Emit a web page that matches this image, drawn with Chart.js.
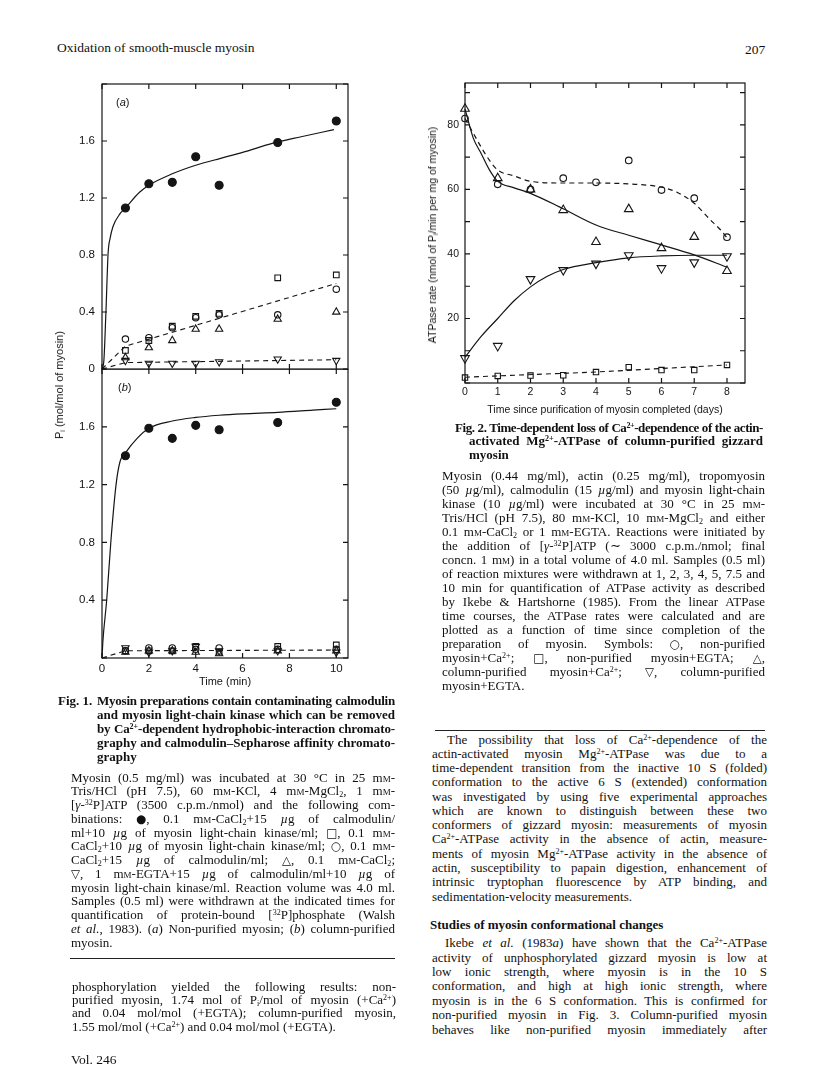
<!DOCTYPE html>
<html><head><meta charset="utf-8">
<script src="https://cdn.jsdelivr.net/npm/chart.js@4.4.1/dist/chart.umd.min.js"></script>
<style>
html,body{margin:0;padding:0;background:#fff;}
body{width:816px;height:1085px;position:relative;overflow:hidden;font-family:"Liberation Serif","Times New Roman",serif;color:#111;}
.ln{position:absolute;white-space:nowrap;font-size:13px;line-height:16px;}
.b{font-weight:bold;}
.hd{font-size:13.5px;}
sup{font-size:0.62em;vertical-align:0.5em;line-height:0;}
sub{font-size:0.62em;vertical-align:-0.25em;line-height:0;}
.sc{font-variant:small-caps;}
.sym{font-family:"DejaVu Sans",sans-serif;font-size:0.9em;}
canvas{position:absolute;}
.rule{position:absolute;height:0;border-top:1.3px solid #222;}
.ax{position:absolute;font-family:"Liberation Sans",Arial,sans-serif;white-space:nowrap;color:#151515;}
.rot{transform:translate(-50%,-50%) rotate(-90deg);}
</style>
</head>
<body>
<canvas id="fig1a" width="330" height="312" style="left:40px;top:70px;"></canvas>
<canvas id="fig1b" width="330" height="320" style="left:40px;top:369px;"></canvas>
<canvas id="fig2" width="340" height="352" style="left:420px;top:70px;"></canvas>

<div class="ax" style="left:116px;top:96px;font-size:11px;">(<i>a</i>)</div>
<div class="ax" style="left:118px;top:381px;font-size:11px;">(<i>b</i>)</div>
<div class="ax rot" style="left:59px;top:385px;font-size:11px;">P<sub>i</sub> (mol/mol of myosin)</div>
<div class="ax rot" style="left:432px;top:235px;font-size:10.5px;">ATPase rate (nmol of P<sub>i</sub>/min per mg of myosin)</div>

<div class="rule" style="left:70px;top:958px;width:325px;"></div>
<div class="rule" style="left:435px;top:730px;width:330px;"></div>

<script>
// ---------------- DATA ----------------
// Fig. 1 sampling times (min)
const fig1Times = [1, 2, 3, 4, 5, 7.5, 10];
// Panel (a) non-purified myosin
const fig1aFilledCircle = [1.13, 1.30, 1.31, 1.49, 1.29, 1.59, 1.74];
const fig1aSquare       = [0.13, 0.20, 0.30, 0.37, 0.39, 0.64, 0.66];
const fig1aCircle       = [0.21, 0.22, 0.29, 0.36, 0.38, 0.38, 0.56];
const fig1aTriangle     = [0.08, 0.15, 0.20, 0.28, 0.28, 0.35, 0.40];
const fig1aDownTriangle = [0.06, 0.04, 0.04, 0.04, 0.05, 0.07, 0.06];
const fig1aCurveX = [0, 0.08, 0.17, 0.26, 0.35, 0.47, 0.77, 1, 1.6, 2, 3, 4, 5.1, 6, 7.3, 8.5, 9.9];
const fig1aCurveY = [0, 0.06, 0.41, 0.81, 0.92, 1.00, 1.09, 1.13, 1.24, 1.29, 1.37, 1.43, 1.48, 1.52, 1.585, 1.63, 1.68];
const fig1aDashUpperX = [0, 1, 10];
const fig1aDashUpperY = [0, 0.16, 0.60];
const fig1aDashLowerX = [0, 1, 10];
const fig1aDashLowerY = [0, 0.045, 0.065];
// Panel (b) column-purified myosin
const fig1bFilledCircle = [1.40, 1.59, 1.52, 1.61, 1.58, 1.63, 1.77];
const fig1bSquare       = [0.05, 0.05, 0.05, 0.08, 0.04, 0.08, 0.09];
const fig1bCircle       = [0.05, 0.07, 0.07, 0.06, 0.07, 0.06, 0.06];
const fig1bTriangle     = [0.04, 0.05, 0.05, 0.04, 0.03, 0.05, 0.05];
const fig1bDownTriangle = [0.07, 0.04, 0.05, 0.08, 0.05, 0.05, 0.04];
const fig1bCurveX = [0, 0.04, 0.2, 0.38, 0.6, 0.77, 1, 1.5, 2, 3, 4, 5, 6, 7.5, 9, 10];
const fig1bCurveY = [0, 0.12, 0.40, 0.81, 1.20, 1.36, 1.42, 1.52, 1.59, 1.64, 1.665, 1.68, 1.69, 1.70, 1.715, 1.725];
const fig1bDashX = [0, 1, 10];
const fig1bDashY = [0, 0.05, 0.055];
const fig1YTicks = ['0', '0.4', '0.8', '1.2', '1.6'];

// Fig. 2 days since purification
const fig2Days = [0, 1, 2, 3, 4, 5, 6, 7, 8];
const fig2NonPurCa   = [82, 61.6, 60, 63.5, 62.2, 69, 59.8, 57.3, 45.2];
const fig2NonPurEGTA = [1.7, 2.2, 2.3, 2.4, 3.4, 4.9, 4.0, 4.0, 5.6];
const fig2ColPurCa   = [85, 63.5, 60, 53.6, 43.7, 53.9, 41.8, 45.3, 34.7];
const fig2ColPurEGTA = [7.7, 11.5, 32.2, 35, 37, 39.6, 35.6, 37.4, 39.3];
const fig2CurveNonPurCaX = [0, 0.25, 0.5, 0.75, 1, 1.5, 2, 3, 4, 5, 6, 6.5, 7, 7.5, 7.8, 8];
const fig2CurveNonPurCaY = [82, 77.5, 73, 69, 66, 64.2, 62.5, 62, 62, 61.7, 60.7, 59, 55.7, 50.5, 47.5, 45];
const fig2CurveColPurCaX = [0, 0.25, 0.5, 0.75, 1, 1.5, 2, 3, 4, 5, 6, 7, 8];
const fig2CurveColPurCaY = [85, 76, 71, 66, 62.5, 60.5, 58.8, 54, 49, 45.8, 42.8, 39.7, 35.9];
const fig2CurveColPurEGTAX = [0, 0.5, 1, 1.5, 2, 2.5, 3, 4, 5, 6, 7, 8];
const fig2CurveColPurEGTAY = [8, 14.5, 20, 25.5, 29.8, 33, 35.2, 37.3, 38.8, 39.4, 39.6, 39.6];
const fig2LineNonPurEGTAX = [0, 4, 8];
const fig2LineNonPurEGTAY = [1.8, 3.4, 5.6];
const fig2YTicks = ['20', '40', '60', '80'];

// ---------------- HELPERS ----------------
const SANS = '"Liberation Sans", Arial, Helvetica, sans-serif';
const INK = '#151515';
function xy(xs, ys) { return xs.map((x, i) => ({ x: x, y: ys[i] })); }
function curve(xs, ys, dashed) {
  return { data: xy(xs, ys), showLine: true, pointRadius: 0, borderColor: INK, borderWidth: 1.2,
    borderDash: dashed ? [5, 4] : [], cubicInterpolationMode: 'monotone', fill: false, clip: false };
}
function straight(xs, ys) {
  return { data: xy(xs, ys), showLine: true, pointRadius: 0, borderColor: INK, borderWidth: 1.1,
    borderDash: [5, 4], tension: 0, fill: false, clip: false };
}
function marks(xs, ys, style, r, filled, rot) {
  return { data: xy(xs, ys), showLine: false, pointStyle: style, pointRadius: r, pointRotation: rot || 0,
    pointBackgroundColor: filled ? INK : 'rgba(0,0,0,0)', pointBorderColor: INK, pointBorderWidth: 1.1, clip: false };
}
const frame = {
  id: 'frame',
  afterDraw(chart, args, o) {
    const { ctx, chartArea: a, scales } = chart;
    ctx.save();
    ctx.strokeStyle = INK; ctx.lineWidth = 1.2;
    ctx.strokeRect(a.left, a.top, a.right - a.left, a.bottom - a.top);
    const L = o.len || 5;
    ctx.beginPath();
    scales.x.ticks.forEach(t => {
      const p = scales.x.getPixelForValue(t.value);
      ctx.moveTo(p, a.bottom); ctx.lineTo(p, a.bottom - L);
      ctx.moveTo(p, a.top); ctx.lineTo(p, a.top + L);
    });
    scales.y.ticks.forEach(t => {
      const p = scales.y.getPixelForValue(t.value);
      ctx.moveTo(a.left, p); ctx.lineTo(a.left + L, p);
      ctx.moveTo(a.right, p); ctx.lineTo(a.right - L, p);
    });
    ctx.stroke();
    ctx.restore();
  }
};

function fig1Options(bottom) {
  return {
    responsive: false, animation: false, devicePixelRatio: 1, events: [],
    layout: { padding: { left: 0, right: 22, top: bottom ? 0 : 14, bottom: bottom ? 0 : 13 }, autoPadding: false },
    plugins: { legend: { display: false }, tooltip: { enabled: false }, frame: { len: 5 } },
    scales: {
      x: {
        type: 'linear', min: 0, max: 10.5,
        ticks: { stepSize: 2, includeBounds: false, display: bottom, padding: 4, maxRotation: 0, autoSkip: false,
          font: { family: SANS, size: 11.5 }, color: INK, callback: v => String(v) },
        grid: { display: false, drawTicks: false }, border: { display: false },
        title: { display: bottom, text: 'Time (min)', font: { family: SANS, size: 11 }, color: INK, padding: { top: 0, bottom: 0 } },
        afterFit(s) { s.height = bottom ? 31 : 0; s.paddingLeft = 0; s.paddingRight = 0; }
      },
      y: {
        min: 0, max: 2.0,
        ticks: { stepSize: 0.4, includeBounds: false, padding: 7, font: { family: SANS, size: 11.5 }, color: INK,
          callback: (v, i) => {
            const k = Math.round(v / 0.4);
            if (bottom && k === 0) return '';
            return k < fig1YTicks.length ? fig1YTicks[k] : '';
          } },
        grid: { display: false, drawTicks: false }, border: { display: false },
        afterFit(s) { s.width = 62; s.paddingTop = 0; s.paddingBottom = 0; }
      }
    }
  };
}

new Chart(document.getElementById('fig1a'), {
  type: 'scatter',
  data: { datasets: [
    curve(fig1aCurveX, fig1aCurveY, false),
    straight(fig1aDashUpperX, fig1aDashUpperY),
    straight(fig1aDashLowerX, fig1aDashLowerY),
    marks(fig1Times, fig1aFilledCircle, 'circle', 4, true),
    marks(fig1Times, fig1aSquare, 'rect', 4, false),
    marks(fig1Times, fig1aCircle, 'circle', 3.2, false),
    marks(fig1Times, fig1aTriangle, 'triangle', 4.2, false),
    marks(fig1Times, fig1aDownTriangle, 'triangle', 4.2, false, 180)
  ] },
  options: fig1Options(false),
  plugins: [frame]
});

new Chart(document.getElementById('fig1b'), {
  type: 'scatter',
  data: { datasets: [
    curve(fig1bCurveX, fig1bCurveY, false),
    straight(fig1bDashX, fig1bDashY),
    marks(fig1Times, fig1bFilledCircle, 'circle', 4, true),
    marks(fig1Times, fig1bSquare, 'rect', 4, false),
    marks(fig1Times, fig1bCircle, 'circle', 3.2, false),
    marks(fig1Times, fig1bTriangle, 'triangle', 4.2, false),
    marks(fig1Times, fig1bDownTriangle, 'triangle', 4.2, false, 180)
  ] },
  options: fig1Options(true),
  plugins: [frame]
});

new Chart(document.getElementById('fig2'), {
  type: 'scatter',
  data: { datasets: [
    curve(fig2CurveNonPurCaX, fig2CurveNonPurCaY, true),
    curve(fig2CurveColPurCaX, fig2CurveColPurCaY, false),
    curve(fig2CurveColPurEGTAX, fig2CurveColPurEGTAY, false),
    straight(fig2LineNonPurEGTAX, fig2LineNonPurEGTAY),
    marks(fig2Days, fig2NonPurCa, 'circle', 3.3, false),
    marks(fig2Days, fig2NonPurEGTA, 'rect', 3.8, false),
    marks(fig2Days, fig2ColPurCa, 'triangle', 5, false),
    marks(fig2Days, fig2ColPurEGTA, 'triangle', 5, false, 180)
  ] },
  options: {
    responsive: false, animation: false, devicePixelRatio: 1, events: [],
    layout: { padding: { left: 0, right: 15, top: 13, bottom: 6 }, autoPadding: false },
    plugins: { legend: { display: false }, tooltip: { enabled: false }, frame: { len: 5 } },
    scales: {
      x: {
        type: 'linear', min: 0, max: 8.55,
        ticks: { stepSize: 1, includeBounds: false, padding: 3, maxRotation: 0, autoSkip: false,
          font: { family: SANS, size: 10.5 }, color: INK, callback: v => String(v) },
        grid: { display: false, drawTicks: false }, border: { display: false },
        title: { display: true, text: 'Time since purification of myosin completed (days)',
          font: { family: SANS, size: 10.5 }, color: INK, padding: { top: 0, bottom: 0 } },
        afterFit(s) { s.height = 33; s.paddingLeft = 0; s.paddingRight = 0; }
      },
      y: {
        min: 0, max: 93,
        ticks: { stepSize: 10, includeBounds: false, padding: 6, font: { family: SANS, size: 10.5 }, color: INK,
          callback: v => (v % 20 === 0 && v > 0) ? fig2YTicks[v / 20 - 1] : '' },
        grid: { display: false, drawTicks: false }, border: { display: false },
        afterFit(s) { s.width = 45; s.paddingTop = 0; s.paddingBottom = 0; }
      }
    }
  },
  plugins: [frame]
});

// ---------------- PAGE TEXT ----------------
const MM = 'm<span class="sc">m</span>';
const MU = '<i>µ</i>';
function S(c) { return '<span class="sym">' + c + '</span>'; }

function line(x, y, w, html, cls, justify) {
  const d = document.createElement('div');
  d.className = 'ln ' + (cls || '');
  d.style.left = x + 'px';
  d.style.top = (y - 8.5) + 'px';
  d.innerHTML = html;
  document.body.appendChild(d);
  if (w) {
    const r = document.createRange();
    r.selectNodeContents(d);
    let nat = r.getBoundingClientRect().width;
    const text = d.textContent;
    if (nat > w) {
      d.style.letterSpacing = ((w - nat) / text.length - 0.02) + 'px';
      nat = r.getBoundingClientRect().width;
    }
    if (justify && nat < w) {
      const n = (text.match(/ /g) || []).length;
      if (n) d.style.wordSpacing = ((w - nat) / n) + 'px';
    }
  }
}
function para(x, w, y0, dy, lines, cls, lastJust) {
  lines.forEach((h, i) => line(x, y0 + i * dy, w, h, cls, i < lines.length - 1 || lastJust));
}

// header
line(57, 48, 0, 'Oxidation of smooth-muscle myosin', 'hd');
line(745, 50, 0, '207', 'hd');

// Fig. 1 caption
line(58, 701, 0, 'Fig. 1.', 'b');
para(97, 298, 701, 14.2, [
  'Myosin preparations contain contaminating calmodulin',
  'and myosin light-chain kinase which can be removed',
  'by Ca<sup>2+</sup>-dependent hydrophobic-interaction chromato-',
  'graphy and calmodulin–Sepharose affinity chromato-',
  'graphy'
], 'b');
para(71, 324, 778, 13.75, [
  `Myosin (0.5 mg/ml) was incubated at 30 °C in 25 ${MM}-`,
  `Tris/HCl (pH 7.5), 60 ${MM}-KCl, 4 ${MM}-MgCl<sub>2</sub>, 1 ${MM}-`,
  `[<i>γ</i>-<sup>32</sup>P]ATP (3500 c.p.m./nmol) and the following com-`,
  `binations: ${S('●')}, 0.1 ${MM}-CaCl<sub>2</sub>+15 ${MU}g of calmodulin/`,
  `ml+10 ${MU}g of myosin light-chain kinase/ml; ${S('□')}, 0.1 ${MM}-`,
  `CaCl<sub>2</sub>+10 ${MU}g of myosin light-chain kinase/ml; ${S('○')}, 0.1 ${MM}-`,
  `CaCl<sub>2</sub>+15 ${MU}g of calmodulin/ml; ${S('△')}, 0.1 ${MM}-CaCl<sub>2</sub>;`,
  `${S('▽')}, 1 ${MM}-EGTA+15 ${MU}g of calmodulin/ml+10 ${MU}g of`,
  `myosin light-chain kinase/ml. Reaction volume was 4.0 ml.`,
  `Samples (0.5 ml) were withdrawn at the indicated times for`,
  `quantification of protein-bound [<sup>32</sup>P]phosphate (Walsh`,
  `<i>et al.</i>, 1983). (<i>a</i>) Non-purified myosin; (<i>b</i>) column-purified`,
  `myosin.`
]);
para(72, 324, 987, 13.4, [
  'phosphorylation yielded the following results: non-',
  'purified myosin, 1.74 mol of P<sub>i</sub>/mol of myosin (+Ca<sup>2+</sup>)',
  'and 0.04 mol/mol (+EGTA); column-purified myosin,',
  '1.55 mol/mol (+Ca<sup>2+</sup>) and 0.04 mol/mol (+EGTA).'
]);
line(71, 1060, 0, 'Vol. 246', 'hd');

// Fig. 2 caption
line(455, 428, 308, 'Fig. 2. Time-dependent loss of Ca<sup>2+</sup>-dependence of the actin-', 'b', true);
para(469, 294, 441.6, 13.6, [
  'activated Mg<sup>2+</sup>-ATPase of column-purified gizzard',
  'myosin'
], 'b');
para(442, 323, 476, 14, [
  `Myosin (0.44 mg/ml), actin (0.25 mg/ml), tropomyosin`,
  `(50 ${MU}g/ml), calmodulin (15 ${MU}g/ml) and myosin light-chain`,
  `kinase (10 ${MU}g/ml) were incubated at 30 °C in 25 ${MM}-`,
  `Tris/HCl (pH 7.5), 80 ${MM}-KCl, 10 ${MM}-MgCl<sub>2</sub> and either`,
  `0.1 ${MM}-CaCl<sub>2</sub> or 1 ${MM}-EGTA. Reactions were initiated by`,
  `the addition of [<i>γ</i>-<sup>32</sup>P]ATP (∼ 3000 c.p.m./nmol; final`,
  `concn. 1 ${MM}) in a total volume of 4.0 ml. Samples (0.5 ml)`,
  `of reaction mixtures were withdrawn at 1, 2, 3, 4, 5, 7.5 and`,
  `10 min for quantification of ATPase activity as described`,
  `by Ikebe &amp; Hartshorne (1985). From the linear ATPase`,
  `time courses, the ATPase rates were calculated and are`,
  `plotted as a function of time since completion of the`,
  `preparation of myosin. Symbols: ${S('○')}, non-purified`,
  `myosin+Ca<sup>2+</sup>; ${S('□')}, non-purified myosin+EGTA; ${S('△')},`,
  `column-purified myosin+Ca<sup>2+</sup>; ${S('▽')}, column-purified`,
  `myosin+EGTA.`
]);

// right column body
line(447, 740, 320, 'The possibility that loss of Ca<sup>2+</sup>-dependence of the', '', true);
para(432, 335, 754.3, 14.28, [
  'actin-activated myosin Mg<sup>2+</sup>-ATPase was due to a',
  'time-dependent transition from the inactive 10 S (folded)',
  'conformation to the active 6 S (extended) conformation',
  'was investigated by using five experimental approaches',
  'which are known to distinguish between these two',
  'conformers of gizzard myosin: measurements of myosin',
  'Ca<sup>2+</sup>-ATPase activity in the absence of actin, measure-',
  'ments of myosin Mg<sup>2+</sup>-ATPase activity in the absence of',
  'actin, susceptibility to papain digestion, enhancement of',
  'intrinsic tryptophan fluorescence by ATP binding, and',
  'sedimentation-velocity measurements.'
]);
line(430, 925, 0, 'Studies of myosin conformational changes', 'b');
line(445, 943, 322, 'Ikebe <i>et al.</i> (1983<i>a</i>) have shown that the Ca<sup>2+</sup>-ATPase', '', true);
para(432, 335, 958, 14.4, [
  'activity of unphosphorylated gizzard myosin is low at',
  'low ionic strength, where myosin is in the 10 S',
  'conformation, and high at high ionic strength, where',
  'myosin is in the 6 S conformation. This is confirmed for',
  'non-purified myosin in Fig. 3. Column-purified myosin',
  'behaves like non-purified myosin immediately after'
], '', true);
</script>
</body></html>
